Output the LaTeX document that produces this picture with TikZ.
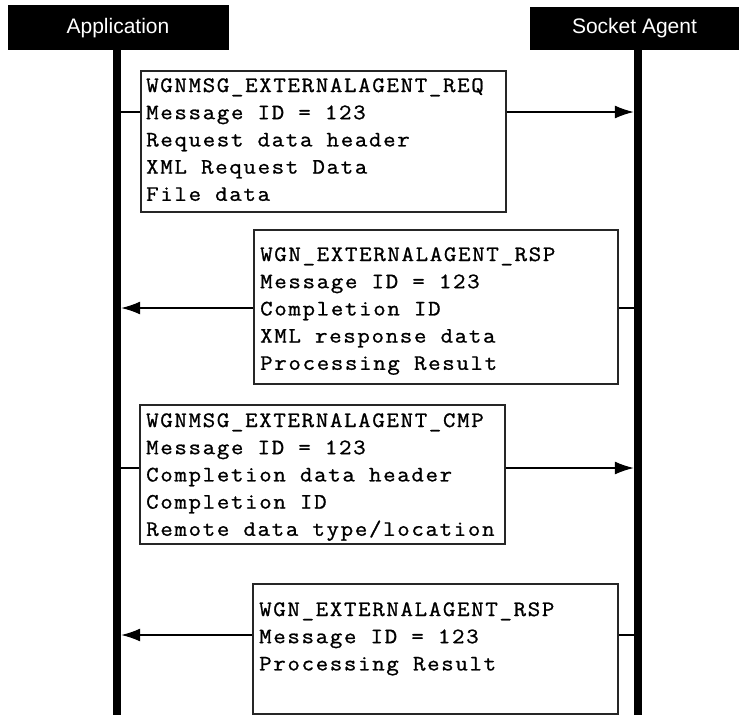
\documentclass[tikz,border=0pt]{standalone}
\usepackage{fontspec}
\setmainfont{Liberation Sans}
\newfontfamily\msgfont[FakeStretch=1.1,LetterSpace=7.6,FakeBold=1]{Latin Modern Mono}
\usetikzlibrary{arrows.meta,calc}

\begin{document}
\begin{tikzpicture}[x=1pt,y=-1pt,
  header/.style={fill=black,draw=black,inner sep=0pt,anchor=north west},
  headtext/.style={text=white,font=\fontsize{21}{24}\selectfont,anchor=base,inner sep=0pt},
  lifeline/.style={fill=black,inner sep=0pt,minimum width=8pt,anchor=north},
  msgbox/.style={draw=black!85,line width=1.5pt,fill=white,inner sep=0pt,anchor=north west},
  % multi-line text is placed by the baseline of its last line
  msgtext/.style={font=\msgfont\fontsize{22}{27.2}\selectfont,align=left,inner sep=0pt,anchor=base west},
  stub/.style={line width=1.4pt},
  msg/.style={line width=1.4pt,-{Latex[length=19pt,width=13pt]}}]

\useasboundingbox (0,0) rectangle (739,715);

% participants
\node[header,minimum width=220pt,minimum height=44pt] (apphead) at (8,5) {};
\node[headtext] (applbl) at (118,33) {Application};
\node[header,minimum width=209pt,minimum height=42pt] (sockhead) at (530,7) {};
\node[headtext] (socklbl) at (634.5,33) {Socket Agent};

% lifelines
\node[lifeline,minimum height=666pt] (app) at (117,49) {};
\node[lifeline,minimum height=666pt] (sock) at (638,49) {};

% message boxes
\node[msgbox,minimum width=365pt,minimum height=141pt] (b1) at (140,70) {};
\node[msgbox,minimum width=364pt,minimum height=154pt] (b2) at (253,229) {};
\node[msgbox,minimum width=365pt,minimum height=139pt] (b3) at (139,404) {};
\node[msgbox,minimum width=365pt,minimum height=130pt] (b4) at (252,583) {};

\node[msgtext] (t1) at (146,200.8) {WGNMSG\_EXTERNALAGENT\_REQ\\Message ID = 123\\Request data header\\XML Request Data\\File data};
\node[msgtext] (t2) at (260,369.8) {WGN\_EXTERNALAGENT\_RSP\\Message ID = 123\\Completion ID\\XML response data\\Processing Result};
\node[msgtext] (t3) at (146,535.8) {WGNMSG\_EXTERNALAGENT\_CMP\\Message ID = 123\\Completion data header\\Completion ID\\Remote data type/location};
\node[msgtext] (t4) at (259,670.4) {WGN\_EXTERNALAGENT\_RSP\\Message ID = 123\\Processing Result};

% message levels
\coordinate (m1) at (0,112);
\coordinate (m2) at (0,308);
\coordinate (m3) at (0,468);
\coordinate (m4) at (0,635);

% connectors
\draw[stub] (app.east |- m1) -- (b1.west |- m1);
\draw[msg] (b1.east |- m1) -- (sock.west |- m1);

\draw[stub] (sock.west |- m2) -- (b2.east |- m2);
\draw[msg] (b2.west |- m2) -- (app.east |- m2);

\draw[stub] (app.east |- m3) -- (b3.west |- m3);
\draw[msg] (b3.east |- m3) -- (sock.west |- m3);

\draw[stub] (sock.west |- m4) -- (b4.east |- m4);
\draw[msg] (b4.west |- m4) -- (app.east |- m4);
\end{tikzpicture}
\end{document}
